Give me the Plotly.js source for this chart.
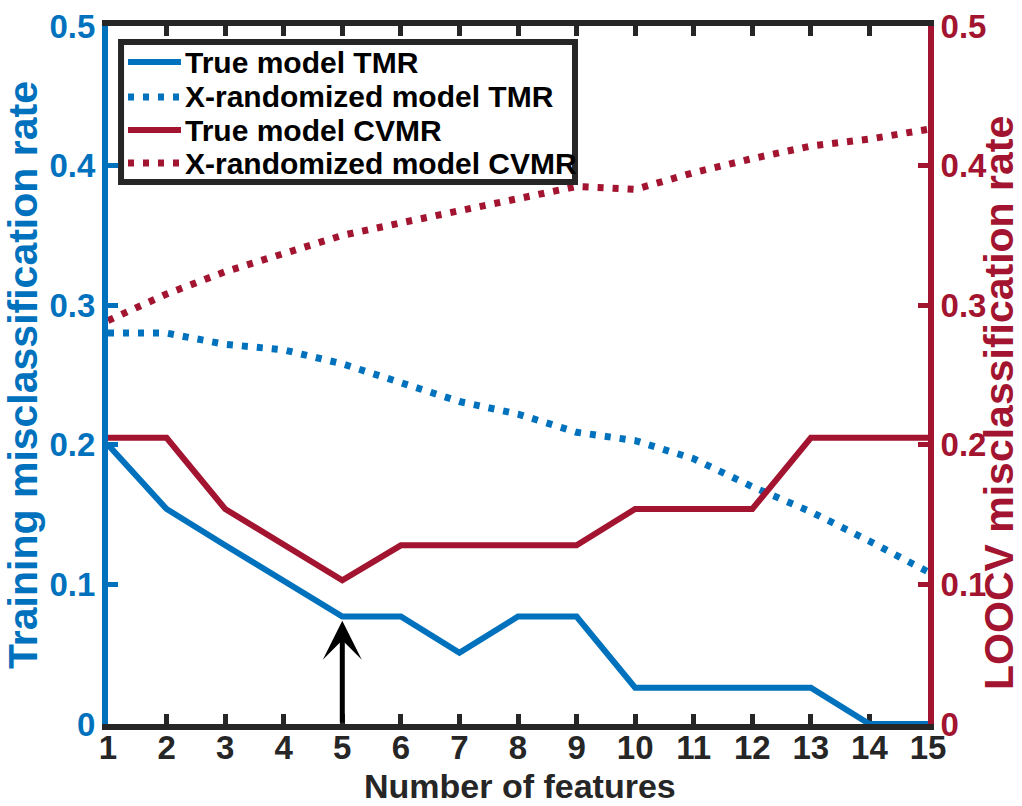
<!DOCTYPE html>
<html>
<head>
<meta charset="utf-8">
<script src="https://cdn.plot.ly/plotly-3.0.1.min.js"></script>
<style>
  html, body { margin: 0; padding: 0; background: #ffffff; }
  #chart { width: 1022px; height: 806px; }
</style>
</head>
<body>
<div id="chart"></div>
<script>
// Number of selected features
const featureCounts = [1, 2, 3, 4, 5, 6, 7, 8, 9, 10, 11, 12, 13, 14, 15];

// Training misclassification rate (left axis)
const trueTMR = [0.200, 0.154, 0.128, 0.103, 0.077, 0.077, 0.051, 0.077, 0.077, 0.026, 0.026, 0.026, 0.026, 0.000, 0.000];
const randTMR = [0.280, 0.280, 0.272, 0.268, 0.258, 0.244, 0.231, 0.222, 0.209, 0.203, 0.190, 0.170, 0.152, 0.131, 0.109];

// Leave-one-out CV misclassification rate (right axis)
const trueCVMR = [0.205, 0.205, 0.154, 0.128, 0.103, 0.128, 0.128, 0.128, 0.128, 0.154, 0.154, 0.154, 0.205, 0.205, 0.205];
const randCVMR = [0.289, 0.308, 0.324, 0.337, 0.350, 0.359, 0.368, 0.377, 0.385, 0.383, 0.395, 0.405, 0.414, 0.419, 0.426];

// Series labels
const seriesNames = ['True model TMR', 'X-randomized model TMR', 'True model CVMR', 'X-randomized model CVMR'];

// Chosen model size, marked by the arrow
const chosenFeatures = 5;
const chosenTMR = trueTMR[featureCounts.indexOf(chosenFeatures)];

const yTicks = [0, 0.1, 0.2, 0.3, 0.4, 0.5];
const yTickText = ['0', '0.1', '0.2', '0.3', '0.4', '0.5'];

const BLUE = '#0072BD';
const RED = '#A2142F';
const DARK = '#262626';
const FONT = 'Liberation Sans, Arial, Helvetica, sans-serif';
const DOTS = '6px,9px';

const seriesStyles = [
  { color: BLUE, width: 6, dash: 'solid' },
  { color: BLUE, width: 7, dash: DOTS },
  { color: RED, width: 6, dash: 'solid' },
  { color: RED, width: 7, dash: DOTS }
];

const seriesData = [trueTMR, randTMR, trueCVMR, randCVMR];
const seriesAxis = ['y', 'y', 'y2', 'y2'];

const traces = seriesData.map((vals, i) => ({
  x: featureCounts, y: vals, name: seriesNames[i], type: 'scatter', mode: 'lines',
  line: seriesStyles[i], cliponaxis: false, yaxis: seriesAxis[i], showlegend: false
}));

// Boxed key in the upper-left corner of the plot (paper coordinates)
const key = { x0: 0.0159, x1: 0.5695, y0: 0.7765, y1: 0.977,
              sampleX0: 0.0244, sampleX1: 0.0890, textX: 0.0915,
              rows: [0.9484, 0.8983, 0.8510, 0.8037] };

const shapes = [{
  type: 'rect', xref: 'paper', yref: 'paper',
  x0: key.x0, x1: key.x1, y0: key.y0, y1: key.y1,
  fillcolor: '#ffffff', line: { color: DARK, width: 6 }, layer: 'above'
}].concat(seriesStyles.map((s, i) => ({
  type: 'line', xref: 'paper', yref: 'paper',
  x0: key.sampleX0, x1: key.sampleX1, y0: key.rows[i], y1: key.rows[i],
  line: { color: s.color, width: s.width, dash: s.dash }, layer: 'above'
})));

const keyLabels = seriesNames.map((name, i) => ({
  xref: 'paper', yref: 'paper', x: key.textX, y: key.rows[i],
  xanchor: 'left', yanchor: 'middle', showarrow: false, text: name,
  font: { family: FONT, size: 30, weight: 'bold', color: '#000000' }
}));

const layout = {
  width: 1022,
  height: 806,
  margin: { l: 108, r: 94, t: 26, b: 82 },
  paper_bgcolor: '#ffffff',
  plot_bgcolor: '#ffffff',
  showlegend: false,
  font: { family: FONT, weight: 'bold', color: DARK },
  xaxis: {
    range: [1, 15],
    tickvals: featureCounts,
    ticktext: featureCounts.map(String),
    showgrid: false, zeroline: false,
    showline: true, linecolor: DARK, linewidth: 6,
    mirror: 'ticks',
    ticks: 'inside', ticklen: 10, tickwidth: 5, tickcolor: DARK,
    tickfont: { family: FONT, size: 33, weight: 'bold', color: DARK },
    ticklabelstandoff: -11,
    layer: 'below traces'
  },
  yaxis: {
    range: [0, 0.5],
    tickvals: yTicks, ticktext: yTickText,
    showgrid: false, zeroline: false,
    showline: true, linecolor: BLUE, linewidth: 6,
    ticks: 'inside', ticklen: 10, tickwidth: 5, tickcolor: BLUE,
    tickfont: { family: FONT, size: 33, weight: 'bold', color: BLUE },
    layer: 'below traces',
    title: { text: 'Training misclassification rate', font: { family: FONT, size: 41, weight: 'bold', color: BLUE }, standoff: 10 }
  },
  yaxis2: {
    range: [0, 0.5],
    overlaying: 'y', side: 'right',
    tickvals: yTicks, ticktext: yTickText,
    showgrid: false, zeroline: false,
    showline: true, linecolor: RED, linewidth: 6,
    ticks: 'inside', ticklen: 10, tickwidth: 5, tickcolor: RED,
    tickfont: { family: FONT, size: 33, weight: 'bold', color: RED },
    layer: 'below traces'
  },
  shapes: shapes,
  annotations: keyLabels.concat([
    {
      // x-axis title
      xref: 'paper', yref: 'paper', x: 0.502, y: -0.0888,
      xanchor: 'center', yanchor: 'middle', showarrow: false, borderpad: 0,
      text: 'Number of features',
      font: { family: FONT, size: 34, weight: 'bold', color: DARK }
    },
    {
      // right-hand axis title
      xref: 'paper', yref: 'paper', x: 1.0866, y: 0.46,
      xanchor: 'center', yanchor: 'middle', textangle: -90, showarrow: false, borderpad: 0,
      text: 'LOOCV misclassification rate',
      font: { family: FONT, size: 41, weight: 'bold', color: RED }
    },
    {
      // arrow pointing at the chosen number of features
      x: chosenFeatures, y: chosenTMR - 0.003,
      ax: chosenFeatures, ay: 0,
      xref: 'x', yref: 'y', axref: 'x', ayref: 'y',
      text: '', showarrow: true,
      arrowhead: 3, arrowsize: 1.3, arrowwidth: 5, arrowcolor: '#000000',
      standoff: 0, startstandoff: 0
    }
  ])
};

Plotly.newPlot('chart', traces, layout, { displayModeBar: false, staticPlot: true });
</script>
</body>
</html>
